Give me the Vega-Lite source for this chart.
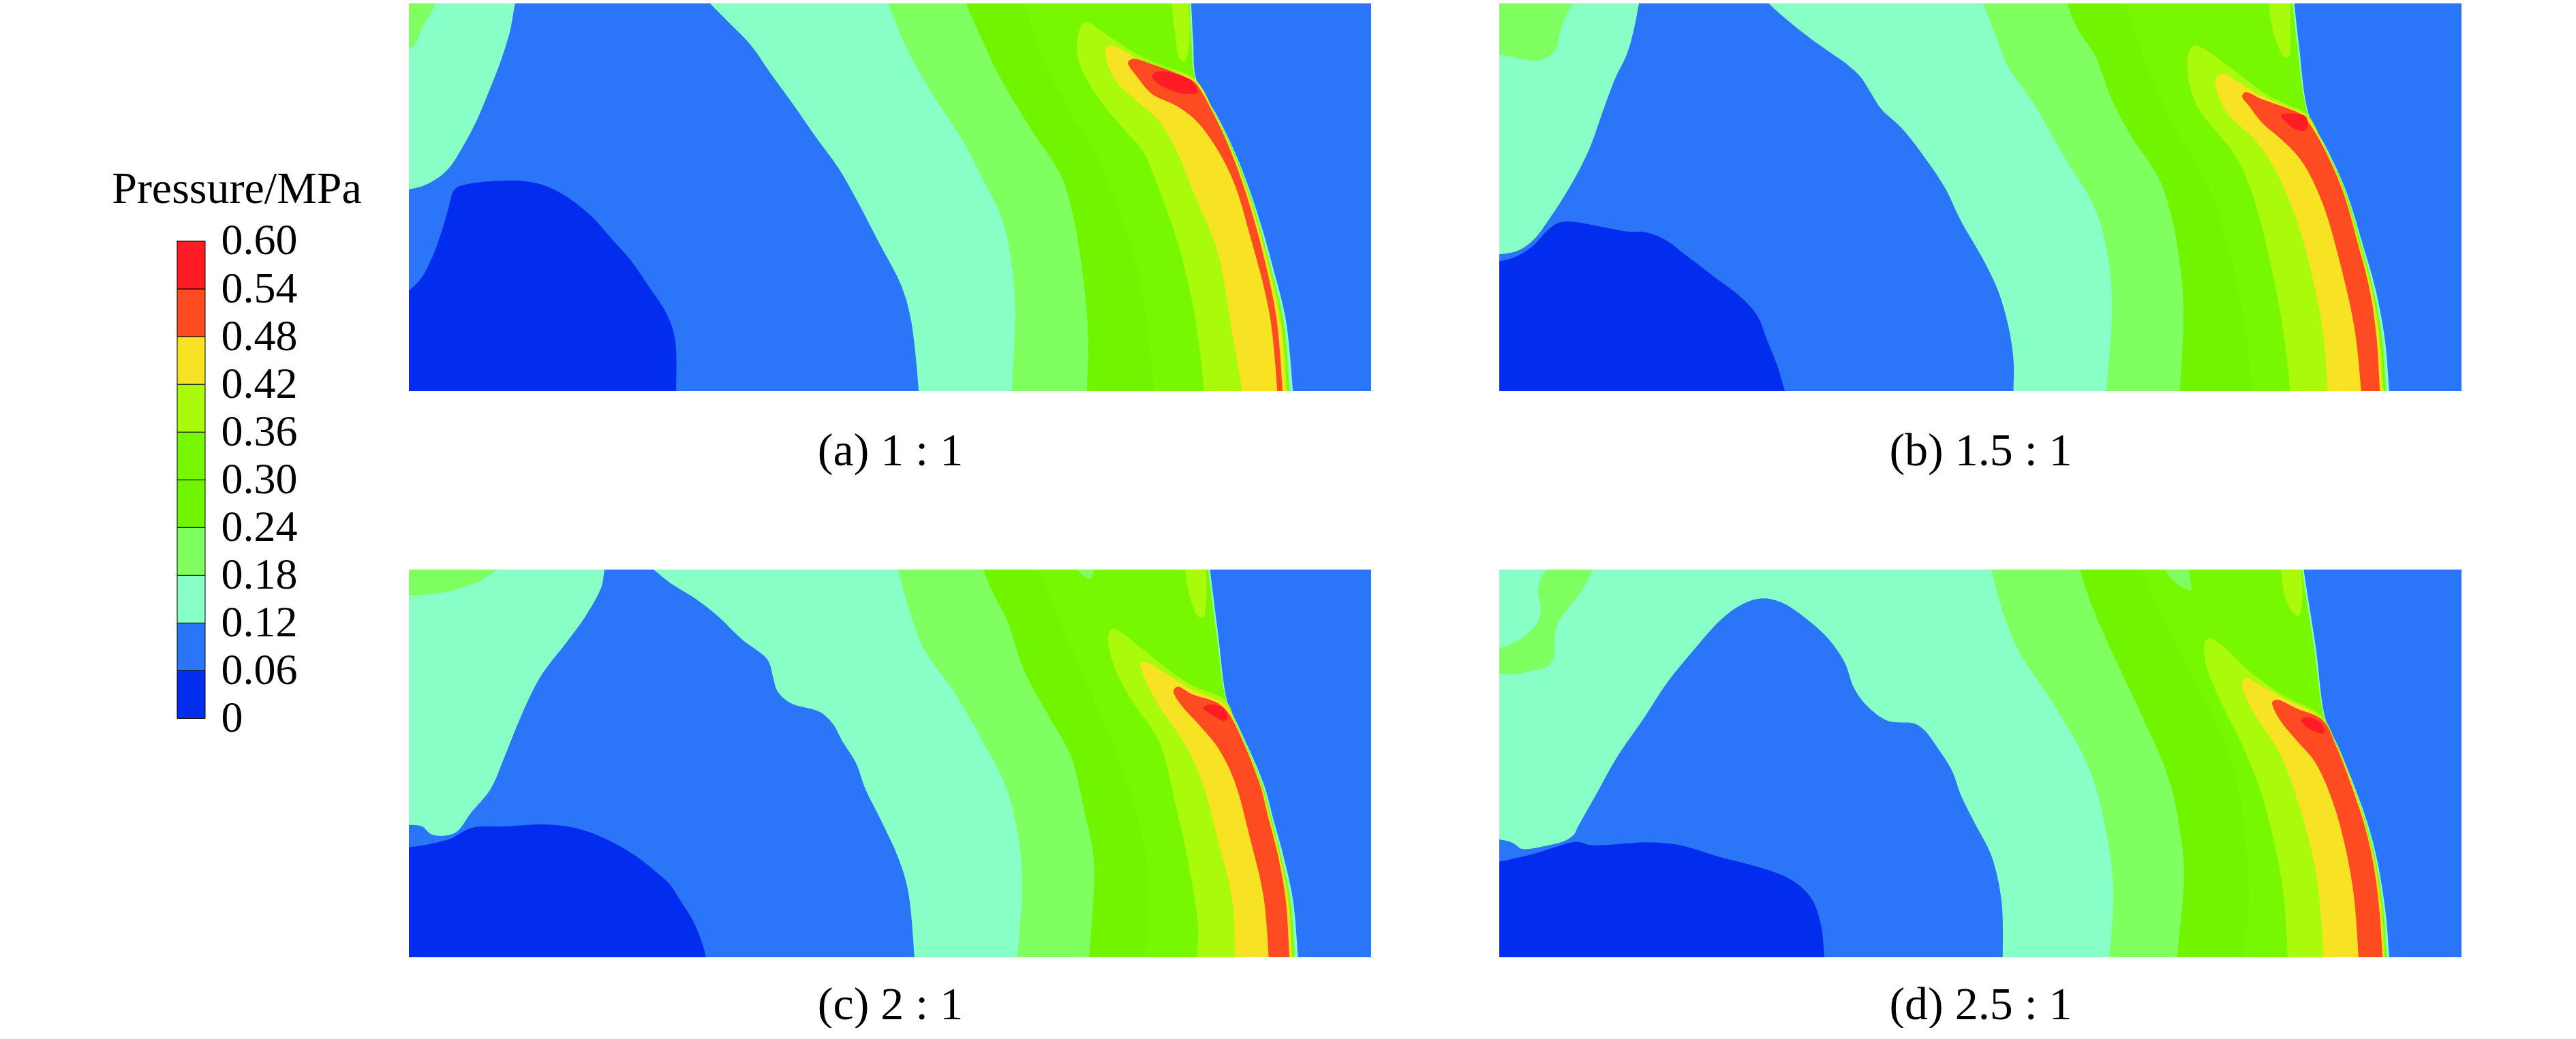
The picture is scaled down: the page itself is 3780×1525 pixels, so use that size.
{"$schema":"https://vega.github.io/schema/vega-lite/v6.json","background":"white","padding":{"left":163,"top":5,"right":0,"bottom":0},"bounds":"flush","spacing":299,
"config":{"view":{"stroke":null},"axisX":{"domain":false,"ticks":false,"labels":false,"grid":false,"titleFont":"Liberation Serif","titleFontSize":68,"titleFontWeight":"normal","titleColor":"#000"}},
"datasets":{
"L":[{"l":0,"lo":0,"hi":0.06},{"l":1,"lo":0.06,"hi":0.12},{"l":2,"lo":0.12,"hi":0.18},{"l":3,"lo":0.18,"hi":0.24},{"l":4,"lo":0.24,"hi":0.3},{"l":5,"lo":0.3,"hi":0.36},{"l":6,"lo":0.36,"hi":0.42},{"l":7,"lo":0.42,"hi":0.48},{"l":8,"lo":0.48,"hi":0.54},{"l":9,"lo":0.54,"hi":0.6}],
"a":[
{"n":0,"l":1,"x":-60,"y":-40},{"n":0,"l":1,"x":1540,"y":-40},{"n":0,"l":1,"x":1540,"y":1300},{"n":0,"l":1,"x":-60,"y":1300},
{"n":1,"l":0,"x":-40,"y":1300},{"n":1,"l":0,"x":410,"y":1300},{"n":1,"l":0,"x":410,"y":1248},{"n":1,"l":0,"x":408,"y":1080},{"n":1,"l":0,"x":395,"y":1000},{"n":1,"l":0,"x":370,"y":920},{"n":1,"l":0,"x":340,"y":830},{"n":1,"l":0,"x":310,"y":760},{"n":1,"l":0,"x":280,"y":690},{"n":1,"l":0,"x":240,"y":625},{"n":1,"l":0,"x":205,"y":590},{"n":1,"l":0,"x":175,"y":578},{"n":1,"l":0,"x":130,"y":578},{"n":1,"l":0,"x":85,"y":590},{"n":1,"l":0,"x":70,"y":605},{"n":1,"l":0,"x":60,"y":670},{"n":1,"l":0,"x":50,"y":740},{"n":1,"l":0,"x":38,"y":810},{"n":1,"l":0,"x":20,"y":885},{"n":1,"l":0,"x":0,"y":928},{"n":1,"l":0,"x":-40,"y":990},
{"n":2,"l":2,"x":-40,"y":-30},{"n":2,"l":2,"x":168,"y":-30},{"n":2,"l":2,"x":163,"y":11},{"n":2,"l":2,"x":155,"y":100},{"n":2,"l":2,"x":140,"y":200},{"n":2,"l":2,"x":125,"y":280},{"n":2,"l":2,"x":105,"y":380},{"n":2,"l":2,"x":85,"y":460},{"n":2,"l":2,"x":60,"y":540},{"n":2,"l":2,"x":35,"y":580},{"n":2,"l":2,"x":10,"y":600},{"n":2,"l":2,"x":-40,"y":600},
{"n":3,"l":3,"x":-40,"y":-30},{"n":3,"l":3,"x":52,"y":-30},{"n":3,"l":3,"x":42,"y":11},{"n":3,"l":3,"x":20,"y":90},{"n":3,"l":3,"x":10,"y":140},{"n":3,"l":3,"x":0,"y":158},{"n":3,"l":3,"x":-40,"y":190},
{"n":4,"l":2,"x":445,"y":-30},{"n":4,"l":2,"x":462,"y":11},{"n":4,"l":2,"x":490,"y":70},{"n":4,"l":2,"x":525,"y":145},{"n":4,"l":2,"x":555,"y":235},{"n":4,"l":2,"x":590,"y":335},{"n":4,"l":2,"x":625,"y":440},{"n":4,"l":2,"x":660,"y":540},{"n":4,"l":2,"x":690,"y":650},{"n":4,"l":2,"x":720,"y":770},{"n":4,"l":2,"x":755,"y":910},{"n":4,"l":2,"x":770,"y":1020},{"n":4,"l":2,"x":782,"y":1248},{"n":4,"l":2,"x":783,"y":1300},{"n":4,"l":2,"x":1358,"y":1300},{"n":4,"l":2,"x":1356,"y":1248},{"n":4,"l":2,"x":1345,"y":1020},{"n":4,"l":2,"x":1325,"y":850},{"n":4,"l":2,"x":1300,"y":670},{"n":4,"l":2,"x":1270,"y":500},{"n":4,"l":2,"x":1240,"y":370},{"n":4,"l":2,"x":1208,"y":255},{"n":4,"l":2,"x":1203,"y":130},{"n":4,"l":2,"x":1200,"y":11},{"n":4,"l":2,"x":1199,"y":-30},
{"n":5,"l":3,"x":728,"y":-30},{"n":5,"l":3,"x":735,"y":11},{"n":5,"l":3,"x":765,"y":160},{"n":5,"l":3,"x":800,"y":290},{"n":5,"l":3,"x":850,"y":450},{"n":5,"l":3,"x":880,"y":570},{"n":5,"l":3,"x":910,"y":700},{"n":5,"l":3,"x":925,"y":850},{"n":5,"l":3,"x":930,"y":1000},{"n":5,"l":3,"x":925,"y":1248},{"n":5,"l":3,"x":925,"y":1300},{"n":5,"l":3,"x":1354,"y":1300},{"n":5,"l":3,"x":1352,"y":1248},{"n":5,"l":3,"x":1342,"y":1020},{"n":5,"l":3,"x":1322,"y":850},{"n":5,"l":3,"x":1298,"y":670},{"n":5,"l":3,"x":1269,"y":500},{"n":5,"l":3,"x":1239,"y":370},{"n":5,"l":3,"x":1207,"y":255},{"n":5,"l":3,"x":1201,"y":130},{"n":5,"l":3,"x":1198,"y":11},{"n":5,"l":3,"x":1197,"y":-30},
{"n":6,"l":4,"x":848,"y":-30},{"n":6,"l":4,"x":855,"y":11},{"n":6,"l":4,"x":880,"y":130},{"n":6,"l":4,"x":910,"y":260},{"n":6,"l":4,"x":960,"y":430},{"n":6,"l":4,"x":1000,"y":560},{"n":6,"l":4,"x":1020,"y":700},{"n":6,"l":4,"x":1035,"y":900},{"n":6,"l":4,"x":1042,"y":1080},{"n":6,"l":4,"x":1040,"y":1248},{"n":6,"l":4,"x":1040,"y":1300},{"n":6,"l":4,"x":1352,"y":1300},{"n":6,"l":4,"x":1350,"y":1248},{"n":6,"l":4,"x":1340,"y":1020},{"n":6,"l":4,"x":1321,"y":850},{"n":6,"l":4,"x":1297,"y":670},{"n":6,"l":4,"x":1268,"y":500},{"n":6,"l":4,"x":1238,"y":370},{"n":6,"l":4,"x":1206,"y":255},{"n":6,"l":4,"x":1200,"y":130},{"n":6,"l":4,"x":1197,"y":11},{"n":6,"l":4,"x":1196,"y":-30},
{"n":7,"l":5,"x":938,"y":-30},{"n":7,"l":5,"x":945,"y":11},{"n":7,"l":5,"x":975,"y":200},{"n":7,"l":5,"x":1010,"y":340},{"n":7,"l":5,"x":1050,"y":470},{"n":7,"l":5,"x":1085,"y":650},{"n":7,"l":5,"x":1110,"y":800},{"n":7,"l":5,"x":1130,"y":1000},{"n":7,"l":5,"x":1143,"y":1248},{"n":7,"l":5,"x":1145,"y":1300},{"n":7,"l":5,"x":1352,"y":1300},{"n":7,"l":5,"x":1350,"y":1248},{"n":7,"l":5,"x":1340,"y":1020},{"n":7,"l":5,"x":1321,"y":850},{"n":7,"l":5,"x":1297,"y":670},{"n":7,"l":5,"x":1268,"y":500},{"n":7,"l":5,"x":1238,"y":370},{"n":7,"l":5,"x":1206,"y":255},{"n":7,"l":5,"x":1200,"y":130},{"n":7,"l":5,"x":1197,"y":11},{"n":7,"l":5,"x":1196,"y":-30},
{"n":8,"l":6,"x":1168,"y":-30},{"n":8,"l":6,"x":1170,"y":11},{"n":8,"l":6,"x":1175,"y":100},{"n":8,"l":6,"x":1183,"y":190},{"n":8,"l":6,"x":1190,"y":195},{"n":8,"l":6,"x":1198,"y":100},{"n":8,"l":6,"x":1196,"y":11},{"n":8,"l":6,"x":1196,"y":-30},
{"n":9,"l":6,"x":1222,"y":1300},{"n":9,"l":6,"x":1220,"y":1248},{"n":9,"l":6,"x":1205,"y":1000},{"n":9,"l":6,"x":1180,"y":780},{"n":9,"l":6,"x":1150,"y":600},{"n":9,"l":6,"x":1125,"y":480},{"n":9,"l":6,"x":1100,"y":420},{"n":9,"l":6,"x":1060,"y":320},{"n":9,"l":6,"x":1030,"y":210},{"n":9,"l":6,"x":1025,"y":130},{"n":9,"l":6,"x":1035,"y":72},{"n":9,"l":6,"x":1042,"y":72},{"n":9,"l":6,"x":1070,"y":110},{"n":9,"l":6,"x":1110,"y":165},{"n":9,"l":6,"x":1150,"y":205},{"n":9,"l":6,"x":1205,"y":252},{"n":9,"l":6,"x":1238,"y":370},{"n":9,"l":6,"x":1267,"y":500},{"n":9,"l":6,"x":1296,"y":670},{"n":9,"l":6,"x":1320,"y":850},{"n":9,"l":6,"x":1338,"y":1020},{"n":9,"l":6,"x":1348,"y":1248},{"n":9,"l":6,"x":1350,"y":1300},
{"n":10,"l":7,"x":1280,"y":1300},{"n":10,"l":7,"x":1278,"y":1248},{"n":10,"l":7,"x":1262,"y":1050},{"n":10,"l":7,"x":1240,"y":800},{"n":10,"l":7,"x":1205,"y":620},{"n":10,"l":7,"x":1175,"y":470},{"n":10,"l":7,"x":1150,"y":385},{"n":10,"l":7,"x":1115,"y":320},{"n":10,"l":7,"x":1085,"y":260},{"n":10,"l":7,"x":1070,"y":190},{"n":10,"l":7,"x":1070,"y":150},{"n":10,"l":7,"x":1080,"y":147},{"n":10,"l":7,"x":1120,"y":190},{"n":10,"l":7,"x":1165,"y":225},{"n":10,"l":7,"x":1205,"y":255},{"n":10,"l":7,"x":1237,"y":370},{"n":10,"l":7,"x":1266,"y":500},{"n":10,"l":7,"x":1295,"y":670},{"n":10,"l":7,"x":1318,"y":850},{"n":10,"l":7,"x":1336,"y":1020},{"n":10,"l":7,"x":1345,"y":1248},{"n":10,"l":7,"x":1347,"y":1300},
{"n":11,"l":8,"x":1333,"y":1300},{"n":11,"l":8,"x":1332,"y":1248},{"n":11,"l":8,"x":1320,"y":1000},{"n":11,"l":8,"x":1290,"y":750},{"n":11,"l":8,"x":1265,"y":580},{"n":11,"l":8,"x":1235,"y":460},{"n":11,"l":8,"x":1205,"y":380},{"n":11,"l":8,"x":1175,"y":335},{"n":11,"l":8,"x":1140,"y":300},{"n":11,"l":8,"x":1115,"y":240},{"n":11,"l":8,"x":1103,"y":200},{"n":11,"l":8,"x":1110,"y":188},{"n":11,"l":8,"x":1140,"y":205},{"n":11,"l":8,"x":1190,"y":245},{"n":11,"l":8,"x":1205,"y":262},{"n":11,"l":8,"x":1236,"y":370},{"n":11,"l":8,"x":1264,"y":500},{"n":11,"l":8,"x":1292,"y":670},{"n":11,"l":8,"x":1315,"y":850},{"n":11,"l":8,"x":1331,"y":1020},{"n":11,"l":8,"x":1340,"y":1248},{"n":11,"l":8,"x":1341,"y":1300},
{"n":12,"l":9,"x":1140,"y":240},{"n":12,"l":9,"x":1150,"y":228},{"n":12,"l":9,"x":1175,"y":235},{"n":12,"l":9,"x":1200,"y":258},{"n":12,"l":9,"x":1210,"y":295},{"n":12,"l":9,"x":1185,"y":298},{"n":12,"l":9,"x":1160,"y":280},{"n":12,"l":9,"x":1145,"y":260}
],
"b":[
{"n":0,"l":1,"x":-100,"y":-40},{"n":0,"l":1,"x":1460,"y":-40},{"n":0,"l":1,"x":1460,"y":1300},{"n":0,"l":1,"x":-100,"y":1300},
{"n":1,"l":0,"x":-80,"y":1300},{"n":1,"l":0,"x":392,"y":1300},{"n":1,"l":0,"x":386,"y":1250},{"n":1,"l":0,"x":375,"y":1170},{"n":1,"l":0,"x":360,"y":1090},{"n":1,"l":0,"x":345,"y":1010},{"n":1,"l":0,"x":320,"y":950},{"n":1,"l":0,"x":280,"y":885},{"n":1,"l":0,"x":240,"y":820},{"n":1,"l":0,"x":205,"y":765},{"n":1,"l":0,"x":175,"y":743},{"n":1,"l":0,"x":153,"y":742},{"n":1,"l":0,"x":102,"y":722},{"n":1,"l":0,"x":68,"y":710},{"n":1,"l":0,"x":47,"y":714},{"n":1,"l":0,"x":31,"y":738},{"n":1,"l":0,"x":10,"y":786},{"n":1,"l":0,"x":-17,"y":822},{"n":1,"l":0,"x":-41,"y":836},{"n":1,"l":0,"x":-80,"y":845},
{"n":2,"l":2,"x":-80,"y":-30},{"n":2,"l":2,"x":172,"y":-30},{"n":2,"l":2,"x":168,"y":14},{"n":2,"l":2,"x":160,"y":100},{"n":2,"l":2,"x":150,"y":175},{"n":2,"l":2,"x":132,"y":255},{"n":2,"l":2,"x":115,"y":351},{"n":2,"l":2,"x":95,"y":471},{"n":2,"l":2,"x":75,"y":559},{"n":2,"l":2,"x":51,"y":646},{"n":2,"l":2,"x":31,"y":710},{"n":2,"l":2,"x":11,"y":766},{"n":2,"l":2,"x":-13,"y":802},{"n":2,"l":2,"x":-41,"y":814},{"n":2,"l":2,"x":-80,"y":816},
{"n":3,"l":3,"x":-80,"y":-30},{"n":3,"l":3,"x":80,"y":-30},{"n":3,"l":3,"x":69,"y":14},{"n":3,"l":3,"x":58,"y":56},{"n":3,"l":3,"x":49,"y":112},{"n":3,"l":3,"x":44,"y":156},{"n":3,"l":3,"x":37,"y":176},{"n":3,"l":3,"x":20,"y":195},{"n":3,"l":3,"x":-7,"y":192},{"n":3,"l":3,"x":-41,"y":176},{"n":3,"l":3,"x":-80,"y":170},
{"n":4,"l":2,"x":345,"y":-30},{"n":4,"l":2,"x":362,"y":14},{"n":4,"l":2,"x":400,"y":85},{"n":4,"l":2,"x":440,"y":150},{"n":4,"l":2,"x":480,"y":210},{"n":4,"l":2,"x":500,"y":250},{"n":4,"l":2,"x":515,"y":300},{"n":4,"l":2,"x":530,"y":350},{"n":4,"l":2,"x":560,"y":410},{"n":4,"l":2,"x":590,"y":490},{"n":4,"l":2,"x":625,"y":600},{"n":4,"l":2,"x":650,"y":710},{"n":4,"l":2,"x":680,"y":820},{"n":4,"l":2,"x":705,"y":930},{"n":4,"l":2,"x":720,"y":1040},{"n":4,"l":2,"x":728,"y":1150},{"n":4,"l":2,"x":728,"y":1250},{"n":4,"l":2,"x":728,"y":1300},{"n":4,"l":2,"x":1292,"y":1300},{"n":4,"l":2,"x":1290,"y":1250},{"n":4,"l":2,"x":1283,"y":1080},{"n":4,"l":2,"x":1270,"y":930},{"n":4,"l":2,"x":1250,"y":780},{"n":4,"l":2,"x":1225,"y":610},{"n":4,"l":2,"x":1195,"y":470},{"n":4,"l":2,"x":1170,"y":370},{"n":4,"l":2,"x":1155,"y":150},{"n":4,"l":2,"x":1148,"y":14},{"n":4,"l":2,"x":1146,"y":-30},
{"n":5,"l":3,"x":676,"y":-30},{"n":5,"l":3,"x":683,"y":14},{"n":5,"l":3,"x":700,"y":110},{"n":5,"l":3,"x":720,"y":215},{"n":5,"l":3,"x":760,"y":340},{"n":5,"l":3,"x":800,"y":490},{"n":5,"l":3,"x":850,"y":670},{"n":5,"l":3,"x":870,"y":830},{"n":5,"l":3,"x":875,"y":1000},{"n":5,"l":3,"x":867,"y":1250},{"n":5,"l":3,"x":866,"y":1300},{"n":5,"l":3,"x":1288,"y":1300},{"n":5,"l":3,"x":1286,"y":1250},{"n":5,"l":3,"x":1280,"y":1080},{"n":5,"l":3,"x":1267,"y":930},{"n":5,"l":3,"x":1248,"y":780},{"n":5,"l":3,"x":1224,"y":610},{"n":5,"l":3,"x":1194,"y":470},{"n":5,"l":3,"x":1169,"y":370},{"n":5,"l":3,"x":1153,"y":150},{"n":5,"l":3,"x":1146,"y":14},{"n":5,"l":3,"x":1144,"y":-30},
{"n":6,"l":4,"x":800,"y":-30},{"n":6,"l":4,"x":808,"y":14},{"n":6,"l":4,"x":825,"y":100},{"n":6,"l":4,"x":850,"y":180},{"n":6,"l":4,"x":875,"y":320},{"n":6,"l":4,"x":905,"y":440},{"n":6,"l":4,"x":945,"y":570},{"n":6,"l":4,"x":965,"y":700},{"n":6,"l":4,"x":980,"y":900},{"n":6,"l":4,"x":982,"y":1040},{"n":6,"l":4,"x":977,"y":1250},{"n":6,"l":4,"x":976,"y":1300},{"n":6,"l":4,"x":1286,"y":1300},{"n":6,"l":4,"x":1284,"y":1250},{"n":6,"l":4,"x":1278,"y":1080},{"n":6,"l":4,"x":1266,"y":930},{"n":6,"l":4,"x":1247,"y":780},{"n":6,"l":4,"x":1223,"y":610},{"n":6,"l":4,"x":1193,"y":470},{"n":6,"l":4,"x":1168,"y":370},{"n":6,"l":4,"x":1152,"y":150},{"n":6,"l":4,"x":1145,"y":14},{"n":6,"l":4,"x":1143,"y":-30},
{"n":7,"l":5,"x":888,"y":-30},{"n":7,"l":5,"x":895,"y":14},{"n":7,"l":5,"x":920,"y":170},{"n":7,"l":5,"x":945,"y":300},{"n":7,"l":5,"x":975,"y":430},{"n":7,"l":5,"x":1020,"y":600},{"n":7,"l":5,"x":1050,"y":800},{"n":7,"l":5,"x":1075,"y":1050},{"n":7,"l":5,"x":1085,"y":1250},{"n":7,"l":5,"x":1087,"y":1300},{"n":7,"l":5,"x":1286,"y":1300},{"n":7,"l":5,"x":1284,"y":1250},{"n":7,"l":5,"x":1278,"y":1080},{"n":7,"l":5,"x":1266,"y":930},{"n":7,"l":5,"x":1247,"y":780},{"n":7,"l":5,"x":1223,"y":610},{"n":7,"l":5,"x":1193,"y":470},{"n":7,"l":5,"x":1168,"y":370},{"n":7,"l":5,"x":1152,"y":150},{"n":7,"l":5,"x":1145,"y":14},{"n":7,"l":5,"x":1143,"y":-30},
{"n":8,"l":6,"x":1108,"y":-30},{"n":8,"l":6,"x":1110,"y":14},{"n":8,"l":6,"x":1112,"y":60},{"n":8,"l":6,"x":1120,"y":130},{"n":8,"l":6,"x":1133,"y":185},{"n":8,"l":6,"x":1140,"y":185},{"n":8,"l":6,"x":1142,"y":110},{"n":8,"l":6,"x":1142,"y":14},{"n":8,"l":6,"x":1142,"y":-30},
{"n":9,"l":6,"x":1143,"y":1300},{"n":9,"l":6,"x":1142,"y":1250},{"n":9,"l":6,"x":1130,"y":1040},{"n":9,"l":6,"x":1110,"y":820},{"n":9,"l":6,"x":1085,"y":620},{"n":9,"l":6,"x":1060,"y":500},{"n":9,"l":6,"x":1030,"y":420},{"n":9,"l":6,"x":1005,"y":350},{"n":9,"l":6,"x":990,"y":260},{"n":9,"l":6,"x":990,"y":170},{"n":9,"l":6,"x":998,"y":148},{"n":9,"l":6,"x":1010,"y":155},{"n":9,"l":6,"x":1050,"y":215},{"n":9,"l":6,"x":1100,"y":295},{"n":9,"l":6,"x":1140,"y":340},{"n":9,"l":6,"x":1166,"y":365},{"n":9,"l":6,"x":1193,"y":470},{"n":9,"l":6,"x":1222,"y":610},{"n":9,"l":6,"x":1246,"y":780},{"n":9,"l":6,"x":1265,"y":930},{"n":9,"l":6,"x":1276,"y":1080},{"n":9,"l":6,"x":1282,"y":1250},{"n":9,"l":6,"x":1284,"y":1300},
{"n":10,"l":7,"x":1199,"y":1300},{"n":10,"l":7,"x":1198,"y":1250},{"n":10,"l":7,"x":1190,"y":1050},{"n":10,"l":7,"x":1165,"y":800},{"n":10,"l":7,"x":1140,"y":640},{"n":10,"l":7,"x":1110,"y":510},{"n":10,"l":7,"x":1085,"y":440},{"n":10,"l":7,"x":1050,"y":370},{"n":10,"l":7,"x":1035,"y":310},{"n":10,"l":7,"x":1030,"y":260},{"n":10,"l":7,"x":1040,"y":237},{"n":10,"l":7,"x":1060,"y":260},{"n":10,"l":7,"x":1100,"y":310},{"n":10,"l":7,"x":1140,"y":345},{"n":10,"l":7,"x":1164,"y":370},{"n":10,"l":7,"x":1192,"y":470},{"n":10,"l":7,"x":1221,"y":610},{"n":10,"l":7,"x":1244,"y":780},{"n":10,"l":7,"x":1263,"y":930},{"n":10,"l":7,"x":1274,"y":1080},{"n":10,"l":7,"x":1279,"y":1250},{"n":10,"l":7,"x":1281,"y":1300},
{"n":11,"l":8,"x":1250,"y":1300},{"n":11,"l":8,"x":1248,"y":1250},{"n":11,"l":8,"x":1238,"y":1050},{"n":11,"l":8,"x":1215,"y":830},{"n":11,"l":8,"x":1190,"y":650},{"n":11,"l":8,"x":1160,"y":520},{"n":11,"l":8,"x":1130,"y":450},{"n":11,"l":8,"x":1100,"y":395},{"n":11,"l":8,"x":1080,"y":340},{"n":11,"l":8,"x":1070,"y":310},{"n":11,"l":8,"x":1075,"y":297},{"n":11,"l":8,"x":1100,"y":320},{"n":11,"l":8,"x":1140,"y":350},{"n":11,"l":8,"x":1160,"y":370},{"n":11,"l":8,"x":1170,"y":395},{"n":11,"l":8,"x":1191,"y":470},{"n":11,"l":8,"x":1220,"y":610},{"n":11,"l":8,"x":1243,"y":780},{"n":11,"l":8,"x":1261,"y":930},{"n":11,"l":8,"x":1271,"y":1080},{"n":11,"l":8,"x":1276,"y":1250},{"n":11,"l":8,"x":1278,"y":1300},
{"n":12,"l":9,"x":1128,"y":370},{"n":12,"l":9,"x":1145,"y":365},{"n":12,"l":9,"x":1165,"y":375},{"n":12,"l":9,"x":1168,"y":405},{"n":12,"l":9,"x":1162,"y":420},{"n":12,"l":9,"x":1145,"y":410},{"n":12,"l":9,"x":1135,"y":390}
],
"c":[
{"n":0,"l":1,"x":-60,"y":-60},{"n":0,"l":1,"x":1540,"y":-60},{"n":0,"l":1,"x":1540,"y":1350},{"n":0,"l":1,"x":-60,"y":1350},
{"n":1,"l":0,"x":-40,"y":1345},{"n":1,"l":0,"x":457,"y":1345},{"n":1,"l":0,"x":455,"y":1295},{"n":1,"l":0,"x":450,"y":1250},{"n":1,"l":0,"x":435,"y":1170},{"n":1,"l":0,"x":415,"y":1100},{"n":1,"l":0,"x":400,"y":1050},{"n":1,"l":0,"x":380,"y":1010},{"n":1,"l":0,"x":345,"y":950},{"n":1,"l":0,"x":300,"y":895},{"n":1,"l":0,"x":255,"y":860},{"n":1,"l":0,"x":205,"y":848},{"n":1,"l":0,"x":150,"y":855},{"n":1,"l":0,"x":100,"y":858},{"n":1,"l":0,"x":85,"y":870},{"n":1,"l":0,"x":65,"y":895},{"n":1,"l":0,"x":30,"y":915},{"n":1,"l":0,"x":0,"y":925},{"n":1,"l":0,"x":-40,"y":932},
{"n":2,"l":2,"x":-40,"y":-50},{"n":2,"l":2,"x":305,"y":-50},{"n":2,"l":2,"x":300,"y":-9},{"n":2,"l":2,"x":295,"y":50},{"n":2,"l":2,"x":270,"y":150},{"n":2,"l":2,"x":240,"y":240},{"n":2,"l":2,"x":205,"y":340},{"n":2,"l":2,"x":185,"y":420},{"n":2,"l":2,"x":165,"y":520},{"n":2,"l":2,"x":145,"y":630},{"n":2,"l":2,"x":125,"y":730},{"n":2,"l":2,"x":95,"y":810},{"n":2,"l":2,"x":75,"y":870},{"n":2,"l":2,"x":60,"y":885},{"n":2,"l":2,"x":35,"y":882},{"n":2,"l":2,"x":20,"y":855},{"n":2,"l":2,"x":0,"y":850},{"n":2,"l":2,"x":-40,"y":845},
{"n":3,"l":3,"x":-40,"y":-50},{"n":3,"l":3,"x":165,"y":-50},{"n":3,"l":3,"x":136,"y":-9},{"n":3,"l":3,"x":108,"y":30},{"n":3,"l":3,"x":80,"y":53},{"n":3,"l":3,"x":42,"y":72},{"n":3,"l":3,"x":0,"y":78},{"n":3,"l":3,"x":-40,"y":80},
{"n":4,"l":2,"x":350,"y":-50},{"n":4,"l":2,"x":375,"y":-9},{"n":4,"l":2,"x":400,"y":35},{"n":4,"l":2,"x":440,"y":90},{"n":4,"l":2,"x":475,"y":150},{"n":4,"l":2,"x":510,"y":225},{"n":4,"l":2,"x":550,"y":295},{"n":4,"l":2,"x":558,"y":350},{"n":4,"l":2,"x":565,"y":400},{"n":4,"l":2,"x":585,"y":440},{"n":4,"l":2,"x":630,"y":470},{"n":4,"l":2,"x":650,"y":510},{"n":4,"l":2,"x":665,"y":570},{"n":4,"l":2,"x":685,"y":640},{"n":4,"l":2,"x":700,"y":730},{"n":4,"l":2,"x":725,"y":840},{"n":4,"l":2,"x":750,"y":960},{"n":4,"l":2,"x":765,"y":1070},{"n":4,"l":2,"x":775,"y":1295},{"n":4,"l":2,"x":776,"y":1345},{"n":4,"l":2,"x":1365,"y":1345},{"n":4,"l":2,"x":1363,"y":1295},{"n":4,"l":2,"x":1355,"y":1100},{"n":4,"l":2,"x":1340,"y":950},{"n":4,"l":2,"x":1325,"y":830},{"n":4,"l":2,"x":1310,"y":710},{"n":4,"l":2,"x":1270,"y":510},{"n":4,"l":2,"x":1255,"y":440},{"n":4,"l":2,"x":1240,"y":200},{"n":4,"l":2,"x":1228,"y":-9},{"n":4,"l":2,"x":1226,"y":-50},
{"n":5,"l":3,"x":745,"y":-50},{"n":5,"l":3,"x":750,"y":-9},{"n":5,"l":3,"x":770,"y":150},{"n":5,"l":3,"x":790,"y":260},{"n":5,"l":3,"x":835,"y":400},{"n":5,"l":3,"x":880,"y":570},{"n":5,"l":3,"x":915,"y":720},{"n":5,"l":3,"x":935,"y":900},{"n":5,"l":3,"x":940,"y":1050},{"n":5,"l":3,"x":933,"y":1295},{"n":5,"l":3,"x":932,"y":1345},{"n":5,"l":3,"x":1361,"y":1345},{"n":5,"l":3,"x":1359,"y":1295},{"n":5,"l":3,"x":1352,"y":1100},{"n":5,"l":3,"x":1337,"y":950},{"n":5,"l":3,"x":1323,"y":830},{"n":5,"l":3,"x":1308,"y":710},{"n":5,"l":3,"x":1269,"y":510},{"n":5,"l":3,"x":1254,"y":440},{"n":5,"l":3,"x":1238,"y":200},{"n":5,"l":3,"x":1226,"y":-9},{"n":5,"l":3,"x":1224,"y":-50},
{"n":6,"l":4,"x":872,"y":-50},{"n":6,"l":4,"x":880,"y":-9},{"n":6,"l":4,"x":900,"y":90},{"n":6,"l":4,"x":915,"y":150},{"n":6,"l":4,"x":945,"y":340},{"n":6,"l":4,"x":980,"y":480},{"n":6,"l":4,"x":1015,"y":620},{"n":6,"l":4,"x":1035,"y":800},{"n":6,"l":4,"x":1050,"y":970},{"n":6,"l":4,"x":1043,"y":1295},{"n":6,"l":4,"x":1042,"y":1345},{"n":6,"l":4,"x":1359,"y":1345},{"n":6,"l":4,"x":1357,"y":1295},{"n":6,"l":4,"x":1350,"y":1100},{"n":6,"l":4,"x":1336,"y":950},{"n":6,"l":4,"x":1322,"y":830},{"n":6,"l":4,"x":1307,"y":710},{"n":6,"l":4,"x":1268,"y":510},{"n":6,"l":4,"x":1253,"y":440},{"n":6,"l":4,"x":1237,"y":200},{"n":6,"l":4,"x":1225,"y":-9},{"n":6,"l":4,"x":1223,"y":-50},
{"n":7,"l":5,"x":958,"y":-50},{"n":7,"l":5,"x":965,"y":-9},{"n":7,"l":5,"x":990,"y":120},{"n":7,"l":5,"x":1030,"y":330},{"n":7,"l":5,"x":1060,"y":480},{"n":7,"l":5,"x":1090,"y":640},{"n":7,"l":5,"x":1120,"y":850},{"n":7,"l":5,"x":1135,"y":1050},{"n":7,"l":5,"x":1128,"y":1295},{"n":7,"l":5,"x":1127,"y":1345},{"n":7,"l":5,"x":1359,"y":1345},{"n":7,"l":5,"x":1357,"y":1295},{"n":7,"l":5,"x":1350,"y":1100},{"n":7,"l":5,"x":1336,"y":950},{"n":7,"l":5,"x":1322,"y":830},{"n":7,"l":5,"x":1307,"y":710},{"n":7,"l":5,"x":1268,"y":510},{"n":7,"l":5,"x":1253,"y":440},{"n":7,"l":5,"x":1237,"y":200},{"n":7,"l":5,"x":1225,"y":-9},{"n":7,"l":5,"x":1223,"y":-50},
{"n":8,"l":3,"x":1020,"y":-50},{"n":8,"l":3,"x":1025,"y":-9},{"n":8,"l":3,"x":1040,"y":20},{"n":8,"l":3,"x":1045,"y":22},{"n":8,"l":3,"x":1050,"y":-9},{"n":8,"l":3,"x":1052,"y":-50},
{"n":9,"l":6,"x":1188,"y":-50},{"n":9,"l":6,"x":1190,"y":-9},{"n":9,"l":6,"x":1198,"y":90},{"n":9,"l":6,"x":1210,"y":148},{"n":9,"l":6,"x":1218,"y":152},{"n":9,"l":6,"x":1222,"y":100},{"n":9,"l":6,"x":1222,"y":-9},{"n":9,"l":6,"x":1222,"y":-50},
{"n":10,"l":6,"x":1208,"y":1345},{"n":10,"l":6,"x":1208,"y":1295},{"n":10,"l":6,"x":1210,"y":1200},{"n":10,"l":6,"x":1195,"y":980},{"n":10,"l":6,"x":1175,"y":780},{"n":10,"l":6,"x":1150,"y":570},{"n":10,"l":6,"x":1105,"y":420},{"n":10,"l":6,"x":1080,"y":310},{"n":10,"l":6,"x":1072,"y":220},{"n":10,"l":6,"x":1078,"y":190},{"n":10,"l":6,"x":1090,"y":200},{"n":10,"l":6,"x":1120,"y":250},{"n":10,"l":6,"x":1160,"y":320},{"n":10,"l":6,"x":1200,"y":380},{"n":10,"l":6,"x":1252,"y":432},{"n":10,"l":6,"x":1268,"y":510},{"n":10,"l":6,"x":1306,"y":710},{"n":10,"l":6,"x":1321,"y":830},{"n":10,"l":6,"x":1335,"y":950},{"n":10,"l":6,"x":1349,"y":1100},{"n":10,"l":6,"x":1355,"y":1295},{"n":10,"l":6,"x":1357,"y":1345},
{"n":11,"l":7,"x":1268,"y":1345},{"n":11,"l":7,"x":1267,"y":1295},{"n":11,"l":7,"x":1262,"y":1100},{"n":11,"l":7,"x":1240,"y":900},{"n":11,"l":7,"x":1215,"y":700},{"n":11,"l":7,"x":1190,"y":580},{"n":11,"l":7,"x":1150,"y":450},{"n":11,"l":7,"x":1125,"y":340},{"n":11,"l":7,"x":1122,"y":305},{"n":11,"l":7,"x":1130,"y":302},{"n":11,"l":7,"x":1160,"y":340},{"n":11,"l":7,"x":1200,"y":395},{"n":11,"l":7,"x":1250,"y":445},{"n":11,"l":7,"x":1267,"y":510},{"n":11,"l":7,"x":1305,"y":710},{"n":11,"l":7,"x":1320,"y":830},{"n":11,"l":7,"x":1334,"y":950},{"n":11,"l":7,"x":1347,"y":1100},{"n":11,"l":7,"x":1353,"y":1295},{"n":11,"l":7,"x":1355,"y":1345},
{"n":12,"l":8,"x":1319,"y":1345},{"n":12,"l":8,"x":1318,"y":1295},{"n":12,"l":8,"x":1310,"y":1090},{"n":12,"l":8,"x":1290,"y":900},{"n":12,"l":8,"x":1265,"y":700},{"n":12,"l":8,"x":1240,"y":590},{"n":12,"l":8,"x":1210,"y":510},{"n":12,"l":8,"x":1185,"y":450},{"n":12,"l":8,"x":1172,"y":400},{"n":12,"l":8,"x":1178,"y":385},{"n":12,"l":8,"x":1200,"y":410},{"n":12,"l":8,"x":1240,"y":440},{"n":12,"l":8,"x":1255,"y":470},{"n":12,"l":8,"x":1266,"y":510},{"n":12,"l":8,"x":1304,"y":710},{"n":12,"l":8,"x":1318,"y":830},{"n":12,"l":8,"x":1332,"y":950},{"n":12,"l":8,"x":1344,"y":1100},{"n":12,"l":8,"x":1350,"y":1295},{"n":12,"l":8,"x":1352,"y":1345},
{"n":13,"l":9,"x":1218,"y":455},{"n":13,"l":9,"x":1230,"y":445},{"n":13,"l":9,"x":1250,"y":460},{"n":13,"l":9,"x":1255,"y":490},{"n":13,"l":9,"x":1250,"y":500},{"n":13,"l":9,"x":1235,"y":485}
],
"d":[
{"n":0,"l":1,"x":-100,"y":-60},{"n":0,"l":1,"x":1460,"y":-60},{"n":0,"l":1,"x":1460,"y":1345},{"n":0,"l":1,"x":-100,"y":1345},
{"n":1,"l":2,"x":-90,"y":-50},{"n":1,"l":2,"x":1160,"y":-50},{"n":1,"l":2,"x":1162,"y":-9},{"n":1,"l":2,"x":1180,"y":250},{"n":1,"l":2,"x":1195,"y":495},{"n":1,"l":2,"x":1215,"y":590},{"n":1,"l":2,"x":1250,"y":790},{"n":1,"l":2,"x":1265,"y":900},{"n":1,"l":2,"x":1275,"y":1000},{"n":1,"l":2,"x":1285,"y":1150},{"n":1,"l":2,"x":1290,"y":1290},{"n":1,"l":2,"x":1292,"y":1340},{"n":1,"l":2,"x":712,"y":1340},{"n":1,"l":2,"x":712,"y":1290},{"n":1,"l":2,"x":710,"y":1100},{"n":1,"l":2,"x":695,"y":950},{"n":1,"l":2,"x":670,"y":840},{"n":1,"l":2,"x":650,"y":750},{"n":1,"l":2,"x":635,"y":660},{"n":1,"l":2,"x":615,"y":590},{"n":1,"l":2,"x":595,"y":530},{"n":1,"l":2,"x":580,"y":507},{"n":1,"l":2,"x":540,"y":498},{"n":1,"l":2,"x":510,"y":450},{"n":1,"l":2,"x":490,"y":390},{"n":1,"l":2,"x":475,"y":300},{"n":1,"l":2,"x":450,"y":220},{"n":1,"l":2,"x":415,"y":150},{"n":1,"l":2,"x":380,"y":100},{"n":1,"l":2,"x":350,"y":88},{"n":1,"l":2,"x":320,"y":110},{"n":1,"l":2,"x":290,"y":160},{"n":1,"l":2,"x":250,"y":260},{"n":1,"l":2,"x":210,"y":370},{"n":1,"l":2,"x":175,"y":490},{"n":1,"l":2,"x":135,"y":620},{"n":1,"l":2,"x":105,"y":740},{"n":1,"l":2,"x":75,"y":860},{"n":1,"l":2,"x":71,"y":878},{"n":1,"l":2,"x":58,"y":899},{"n":1,"l":2,"x":30,"y":916},{"n":1,"l":2,"x":-7,"y":927},{"n":1,"l":2,"x":-17,"y":912},{"n":1,"l":2,"x":-24,"y":904},{"n":1,"l":2,"x":-41,"y":895},{"n":1,"l":2,"x":-90,"y":885},
{"n":2,"l":0,"x":-90,"y":1340},{"n":2,"l":0,"x":446,"y":1340},{"n":2,"l":0,"x":445,"y":1290},{"n":2,"l":0,"x":440,"y":1180},{"n":2,"l":0,"x":425,"y":1090},{"n":2,"l":0,"x":395,"y":1030},{"n":2,"l":0,"x":350,"y":990},{"n":2,"l":0,"x":290,"y":955},{"n":2,"l":0,"x":230,"y":915},{"n":2,"l":0,"x":180,"y":905},{"n":2,"l":0,"x":153,"y":908},{"n":2,"l":0,"x":95,"y":914},{"n":2,"l":0,"x":75,"y":903},{"n":2,"l":0,"x":44,"y":920},{"n":2,"l":0,"x":8,"y":945},{"n":2,"l":0,"x":-41,"y":969},{"n":2,"l":0,"x":-90,"y":985},
{"n":3,"l":3,"x":45,"y":-50},{"n":3,"l":3,"x":29,"y":-9},{"n":3,"l":3,"x":19,"y":36},{"n":3,"l":3,"x":17,"y":61},{"n":3,"l":3,"x":21,"y":120},{"n":3,"l":3,"x":17,"y":166},{"n":3,"l":3,"x":0,"y":208},{"n":3,"l":3,"x":-20,"y":237},{"n":3,"l":3,"x":-41,"y":254},{"n":3,"l":3,"x":-90,"y":265},{"n":3,"l":3,"x":-90,"y":335},{"n":3,"l":3,"x":-41,"y":339},{"n":3,"l":3,"x":-17,"y":342},{"n":3,"l":3,"x":10,"y":329},{"n":3,"l":3,"x":30,"y":317},{"n":3,"l":3,"x":40,"y":291},{"n":3,"l":3,"x":42,"y":254},{"n":3,"l":3,"x":42,"y":212},{"n":3,"l":3,"x":49,"y":161},{"n":3,"l":3,"x":58,"y":132},{"n":3,"l":3,"x":85,"y":52},{"n":3,"l":3,"x":99,"y":-9},{"n":3,"l":3,"x":110,"y":-50},
{"n":5,"l":3,"x":690,"y":-50},{"n":5,"l":3,"x":695,"y":-9},{"n":5,"l":3,"x":710,"y":120},{"n":5,"l":3,"x":735,"y":260},{"n":5,"l":3,"x":790,"y":450},{"n":5,"l":3,"x":840,"y":650},{"n":5,"l":3,"x":865,"y":850},{"n":5,"l":3,"x":877,"y":1050},{"n":5,"l":3,"x":872,"y":1290},{"n":5,"l":3,"x":871,"y":1340},{"n":5,"l":3,"x":1289,"y":1340},{"n":5,"l":3,"x":1287,"y":1290},{"n":5,"l":3,"x":1283,"y":1150},{"n":5,"l":3,"x":1273,"y":1000},{"n":5,"l":3,"x":1263,"y":900},{"n":5,"l":3,"x":1248,"y":790},{"n":5,"l":3,"x":1214,"y":590},{"n":5,"l":3,"x":1194,"y":495},{"n":5,"l":3,"x":1178,"y":250},{"n":5,"l":3,"x":1160,"y":-9},{"n":5,"l":3,"x":1158,"y":-50},
{"n":6,"l":4,"x":820,"y":-50},{"n":6,"l":4,"x":827,"y":-9},{"n":6,"l":4,"x":845,"y":110},{"n":6,"l":4,"x":880,"y":290},{"n":6,"l":4,"x":920,"y":480},{"n":6,"l":4,"x":960,"y":690},{"n":6,"l":4,"x":978,"y":880},{"n":6,"l":4,"x":983,"y":1020},{"n":6,"l":4,"x":973,"y":1290},{"n":6,"l":4,"x":972,"y":1340},{"n":6,"l":4,"x":1287,"y":1340},{"n":6,"l":4,"x":1285,"y":1290},{"n":6,"l":4,"x":1281,"y":1150},{"n":6,"l":4,"x":1272,"y":1000},{"n":6,"l":4,"x":1262,"y":900},{"n":6,"l":4,"x":1248,"y":790},{"n":6,"l":4,"x":1214,"y":590},{"n":6,"l":4,"x":1193,"y":495},{"n":6,"l":4,"x":1177,"y":250},{"n":6,"l":4,"x":1159,"y":-9},{"n":6,"l":4,"x":1157,"y":-50},
{"n":7,"l":5,"x":913,"y":-50},{"n":7,"l":5,"x":920,"y":-9},{"n":7,"l":5,"x":945,"y":120},{"n":7,"l":5,"x":985,"y":300},{"n":7,"l":5,"x":1030,"y":500},{"n":7,"l":5,"x":1060,"y":680},{"n":7,"l":5,"x":1075,"y":900},{"n":7,"l":5,"x":1080,"y":1100},{"n":7,"l":5,"x":1072,"y":1290},{"n":7,"l":5,"x":1071,"y":1340},{"n":7,"l":5,"x":1287,"y":1340},{"n":7,"l":5,"x":1285,"y":1290},{"n":7,"l":5,"x":1281,"y":1150},{"n":7,"l":5,"x":1272,"y":1000},{"n":7,"l":5,"x":1262,"y":900},{"n":7,"l":5,"x":1248,"y":790},{"n":7,"l":5,"x":1214,"y":590},{"n":7,"l":5,"x":1193,"y":495},{"n":7,"l":5,"x":1177,"y":250},{"n":7,"l":5,"x":1159,"y":-9},{"n":7,"l":5,"x":1157,"y":-50},
{"n":8,"l":3,"x":945,"y":-50},{"n":8,"l":3,"x":955,"y":-9},{"n":8,"l":3,"x":965,"y":25},{"n":8,"l":3,"x":985,"y":55},{"n":8,"l":3,"x":993,"y":60},{"n":8,"l":3,"x":990,"y":-9},{"n":8,"l":3,"x":988,"y":-50},
{"n":9,"l":6,"x":1126,"y":-50},{"n":9,"l":6,"x":1128,"y":-9},{"n":9,"l":6,"x":1135,"y":90},{"n":9,"l":6,"x":1148,"y":140},{"n":9,"l":6,"x":1155,"y":145},{"n":9,"l":6,"x":1160,"y":80},{"n":9,"l":6,"x":1158,"y":-9},{"n":9,"l":6,"x":1156,"y":-50},
{"n":10,"l":6,"x":1139,"y":1340},{"n":10,"l":6,"x":1138,"y":1290},{"n":10,"l":6,"x":1130,"y":1050},{"n":10,"l":6,"x":1100,"y":750},{"n":10,"l":6,"x":1070,"y":580},{"n":10,"l":6,"x":1035,"y":420},{"n":10,"l":6,"x":1015,"y":300},{"n":10,"l":6,"x":1015,"y":230},{"n":10,"l":6,"x":1022,"y":222},{"n":10,"l":6,"x":1040,"y":245},{"n":10,"l":6,"x":1080,"y":330},{"n":10,"l":6,"x":1130,"y":410},{"n":10,"l":6,"x":1190,"y":485},{"n":10,"l":6,"x":1213,"y":590},{"n":10,"l":6,"x":1247,"y":790},{"n":10,"l":6,"x":1261,"y":900},{"n":10,"l":6,"x":1271,"y":1000},{"n":10,"l":6,"x":1280,"y":1150},{"n":10,"l":6,"x":1284,"y":1290},{"n":10,"l":6,"x":1286,"y":1340},
{"n":11,"l":7,"x":1193,"y":1340},{"n":11,"l":7,"x":1192,"y":1290},{"n":11,"l":7,"x":1180,"y":1000},{"n":11,"l":7,"x":1155,"y":780},{"n":11,"l":7,"x":1125,"y":600},{"n":11,"l":7,"x":1090,"y":480},{"n":11,"l":7,"x":1070,"y":380},{"n":11,"l":7,"x":1075,"y":353},{"n":11,"l":7,"x":1090,"y":370},{"n":11,"l":7,"x":1130,"y":420},{"n":11,"l":7,"x":1188,"y":490},{"n":11,"l":7,"x":1213,"y":590},{"n":11,"l":7,"x":1247,"y":790},{"n":11,"l":7,"x":1260,"y":900},{"n":11,"l":7,"x":1270,"y":1000},{"n":11,"l":7,"x":1278,"y":1150},{"n":11,"l":7,"x":1282,"y":1290},{"n":11,"l":7,"x":1284,"y":1340},
{"n":12,"l":8,"x":1245,"y":1340},{"n":12,"l":8,"x":1244,"y":1290},{"n":12,"l":8,"x":1235,"y":1050},{"n":12,"l":8,"x":1210,"y":800},{"n":12,"l":8,"x":1180,"y":640},{"n":12,"l":8,"x":1150,"y":560},{"n":12,"l":8,"x":1125,"y":490},{"n":12,"l":8,"x":1115,"y":435},{"n":12,"l":8,"x":1122,"y":427},{"n":12,"l":8,"x":1150,"y":455},{"n":12,"l":8,"x":1190,"y":495},{"n":12,"l":8,"x":1212,"y":590},{"n":12,"l":8,"x":1245,"y":790},{"n":12,"l":8,"x":1259,"y":900},{"n":12,"l":8,"x":1268,"y":1000},{"n":12,"l":8,"x":1276,"y":1150},{"n":12,"l":8,"x":1280,"y":1290},{"n":12,"l":8,"x":1282,"y":1340},
{"n":13,"l":9,"x":1158,"y":495},{"n":13,"l":9,"x":1168,"y":485},{"n":13,"l":9,"x":1188,"y":505},{"n":13,"l":9,"x":1192,"y":540},{"n":13,"l":9,"x":1180,"y":535},{"n":13,"l":9,"x":1165,"y":515}
]},
"hconcat":[
{"width":41,"height":1400,"data":{"name":"L"},"mark":{"type":"rect","stroke":"#000","strokeWidth":1},
"encoding":{"y":{"field":"lo","type":"quantitative","scale":{"domain":[-0.3002,0.8989],"nice":false,"zero":false},"axis":{"orient":"right","domain":false,"ticks":false,"grid":false,"values":[0,0.06,0.12,0.18,0.24,0.3,0.36,0.42,0.48,0.54,0.6],"labelExpr":"datum.value==0?'0':format(datum.value,'.2f')","labelFont":"Liberation Serif","labelFontSize":64,"labelColor":"#000","labelPadding":23,"labelOverlap":false,"labelBound":false,"labelFlush":false,"title":"Pressure/MPa","titleFont":"Liberation Serif","titleFontSize":66,"titleFontWeight":"normal","titleColor":"#000","titleAngle":0,"titleAlign":"center","titleBaseline":"alphabetic","titleX":46,"titleY":292}},"y2":{"field":"hi"},"fill":{"field":"l","type":"nominal","scale":{"domain":[0,1,2,3,4,5,6,7,8,9],"range":["#022DEF","#2B76F8","#87FFC7","#7FFF60","#70F400","#78F800","#A9FB0B","#F8E224","#FF4B22","#FF1C24"]},"legend":null}}},
{"columns":2,"bounds":"flush","spacing":{"column":188,"row":262},"concat":[
{"width":1412,"height":569,"data":{"name":"a"},"mark":{"type":"line","order":false,"clip":true,"strokeWidth":0,"interpolate":"catmull-rom-closed"},"encoding":{"x":{"field":"x","type":"quantitative","scale":{"domain":[0,1476],"nice":false,"zero":false},"axis":{"title":"(a) 1 : 1","titlePadding":54}},"y":{"field":"y","type":"quantitative","scale":{"domain":[1248,11],"nice":false,"zero":false},"axis":null},"fill":{"field":"l","type":"nominal","scale":{"domain":[0,1,2,3,4,5,6,7,8,9],"range":["#022DEF","#2B76F8","#87FFC7","#7FFF60","#70F400","#78F800","#A9FB0B","#F8E224","#FF4B22","#FF1C24"]},"legend":null},"detail":{"field":"n"}}},
{"width":1412,"height":569,"data":{"name":"b"},"mark":{"type":"line","order":false,"clip":true,"strokeWidth":0,"interpolate":"catmull-rom-closed"},"encoding":{"x":{"field":"x","type":"quantitative","scale":{"domain":[-41,1398],"nice":false,"zero":false},"axis":{"title":"(b) 1.5 : 1","titlePadding":54}},"y":{"field":"y","type":"quantitative","scale":{"domain":[1250,14],"nice":false,"zero":false},"axis":null},"fill":{"field":"l","type":"nominal","scale":{"domain":[0,1,2,3,4,5,6,7,8,9],"range":["#022DEF","#2B76F8","#87FFC7","#7FFF60","#70F400","#78F800","#A9FB0B","#F8E224","#FF4B22","#FF1C24"]},"legend":null},"detail":{"field":"n"}}},
{"width":1412,"height":569,"data":{"name":"c"},"mark":{"type":"line","order":false,"clip":true,"strokeWidth":0,"interpolate":"catmull-rom-closed"},"encoding":{"x":{"field":"x","type":"quantitative","scale":{"domain":[0,1475],"nice":false,"zero":false},"axis":{"title":"(c) 2 : 1","titlePadding":36}},"y":{"field":"y","type":"quantitative","scale":{"domain":[1295,-9],"nice":false,"zero":false},"axis":null},"fill":{"field":"l","type":"nominal","scale":{"domain":[0,1,2,3,4,5,6,7,8,9],"range":["#022DEF","#2B76F8","#87FFC7","#7FFF60","#70F400","#78F800","#A9FB0B","#F8E224","#FF4B22","#FF1C24"]},"legend":null},"detail":{"field":"n"}}},
{"width":1412,"height":569,"data":{"name":"d"},"mark":{"type":"line","order":false,"clip":true,"strokeWidth":0,"interpolate":"catmull-rom-closed"},"encoding":{"x":{"field":"x","type":"quantitative","scale":{"domain":[-41,1398],"nice":false,"zero":false},"axis":{"title":"(d) 2.5 : 1","titlePadding":36}},"y":{"field":"y","type":"quantitative","scale":{"domain":[1290,-9],"nice":false,"zero":false},"axis":null},"fill":{"field":"l","type":"nominal","scale":{"domain":[0,1,2,3,4,5,6,7,8,9],"range":["#022DEF","#2B76F8","#87FFC7","#7FFF60","#70F400","#78F800","#A9FB0B","#F8E224","#FF4B22","#FF1C24"]},"legend":null},"detail":{"field":"n"}}}
]}
]}
